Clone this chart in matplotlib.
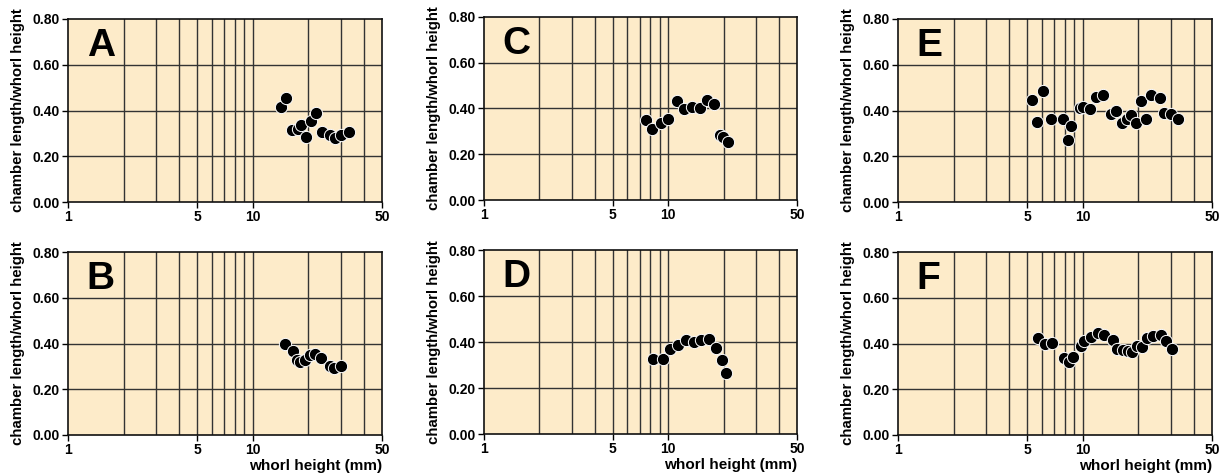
import numpy as np
import matplotlib
matplotlib.use("Agg")
import matplotlib.pyplot as plt

plt.rcParams['font.family'] = ['Liberation Sans', 'DejaVu Sans']
plt.rcParams['font.weight'] = 'bold'

# whorl height (mm) and chamber length / whorl height for each specimen
a_x = [14.2, 15.1, 16.3, 17.5, 18.3, 19.4, 20.6, 22.0, 23.6, 26.3, 27.9, 30.0, 33.2]
a_y = [0.415, 0.455, 0.314, 0.317, 0.336, 0.282, 0.355, 0.387, 0.308, 0.292, 0.280, 0.293, 0.304]

b_x = [15.0, 16.4, 17.4, 18.1, 19.1, 20.4, 21.8, 23.4, 26.3, 27.6, 30.0]
b_y = [0.400, 0.369, 0.330, 0.317, 0.329, 0.348, 0.356, 0.336, 0.301, 0.294, 0.300]

c_x = [7.57, 8.17, 9.14, 9.98, 11.1, 12.2, 13.5, 14.8, 16.2, 17.8, 19.2, 19.95, 21.0]
c_y = [0.348, 0.310, 0.338, 0.355, 0.434, 0.399, 0.407, 0.404, 0.436, 0.421, 0.284, 0.275, 0.254]

d_x = [8.3, 9.37, 10.2, 11.3, 12.45, 13.8, 15.1, 16.6, 18.2, 19.6, 20.6]
d_y = [0.326, 0.328, 0.369, 0.389, 0.407, 0.398, 0.407, 0.415, 0.373, 0.321, 0.265]

e_x = [5.31, 5.63, 6.12, 6.70, 7.81, 8.32, 8.63, 9.61, 10.0, 11.0, 11.8, 12.8, 14.2,
       15.1, 16.3, 17.3, 18.2, 19.4, 20.6, 21.9, 23.4, 26.1, 27.6, 29.9, 32.9]
e_y = [0.444, 0.349, 0.485, 0.365, 0.365, 0.273, 0.331, 0.410, 0.415, 0.407, 0.460, 0.469, 0.385,
       0.400, 0.347, 0.365, 0.380, 0.347, 0.441, 0.365, 0.469, 0.453, 0.390, 0.384, 0.365]

f_x = [5.72, 6.22, 6.84, 7.94, 8.46, 8.81, 9.82, 10.2, 11.1, 12.1, 13.0, 14.5, 15.3,
       16.5, 17.6, 18.5, 19.7, 21.0, 22.2, 23.9, 26.6, 28.2, 30.5]
f_y = [0.425, 0.399, 0.404, 0.336, 0.320, 0.340, 0.387, 0.410, 0.429, 0.445, 0.439, 0.417, 0.378,
       0.371, 0.367, 0.364, 0.391, 0.384, 0.426, 0.431, 0.436, 0.410, 0.378]

x_ticks = [1, 5, 10, 50]
x_grid = [2, 3, 4, 5, 6, 7, 8, 9, 10, 20, 30, 40]
y_ticks = [0.0, 0.2, 0.4, 0.6, 0.8]

W, H = 1223, 474
fig = plt.figure(figsize=(W / 100, H / 100), dpi=100)

# panel: letter, data, pixel box (left, right, top, bottom), show xlabel
panels = [
    ('A', a_x, a_y, (68, 382, 19, 202), False),
    ('C', c_x, c_y, (484, 797, 17, 200), False),
    ('E', e_x, e_y, (898, 1212, 19, 202), False),
    ('B', b_x, b_y, (68, 382, 252, 435), True),
    ('D', d_x, d_y, (484, 797, 250, 434), True),
    ('F', f_x, f_y, (898, 1212, 252, 435), True),
]

for letter, xs, ys, (l, r, t, b), show_xlabel in panels:
    ax = fig.add_axes([l / W, 1 - b / H, (r - l) / W, (b - t) / H])
    ax.set_facecolor('#fdebc9')
    ax.set_xscale('log')
    ax.set_xlim(1, 50)
    ax.set_ylim(0, 0.8)
    for g in x_grid:
        ax.axvline(g, color='#333333', lw=1.0, zorder=1)
    for g in y_ticks[1:-1]:
        ax.axhline(g, color='#333333', lw=1.0, zorder=1)
    ax.scatter(xs, ys, s=78, c='black', edgecolors='white', linewidths=0.7, zorder=3)
    ax.xaxis.set_major_locator(matplotlib.ticker.FixedLocator(x_ticks))
    ax.xaxis.set_minor_locator(matplotlib.ticker.NullLocator())
    ax.set_xticklabels([str(v) for v in x_ticks])
    ax.set_yticks(y_ticks)
    ax.set_yticklabels(['%.2f' % v for v in y_ticks])
    ax.tick_params(labelsize=10, length=4, width=1, direction='out', pad=2)
    for lab in ax.get_xticklabels() + ax.get_yticklabels():
        lab.set_fontweight('bold')
    for s in ax.spines.values():
        s.set_linewidth(1.2)
        s.set_color('#111111')
    ax.set_ylabel('chamber length/whorl height', fontsize=10.8, fontweight='bold', labelpad=5)
    if show_xlabel:
        ax.set_xlabel('whorl height (mm)', fontsize=11, fontweight='bold', labelpad=1)
        ax.xaxis.set_label_coords(1.0, -0.13)
        ax.xaxis.label.set_horizontalalignment('right')
    ax.text(0.06, 0.95, letter, transform=ax.transAxes, fontsize=28, fontweight='bold',
            va='top', ha='left')

fig.savefig('out.png', dpi=100)
